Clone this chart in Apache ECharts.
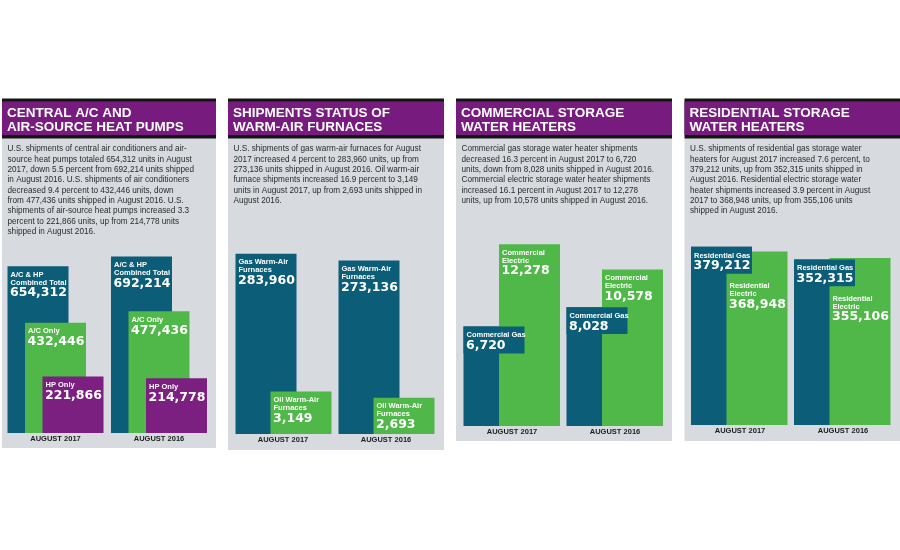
<!DOCTYPE html>
<html><head><meta charset="utf-8">
<script src="https://cdn.jsdelivr.net/npm/echarts@6/dist/echarts.min.js"></script>
<style>html,body{margin:0;padding:0;background:#fff}#c{width:900px;height:550px}</style>
</head><body><div id="c"></div>
<script>
// ---------- data ----------
const categories = ['AUGUST 2017', 'AUGUST 2016'];
const acHpTotal = [654312, 692214];
const acOnly = [432446, 477436];
const hpOnly = [221866, 214778];
const gasFurnaces = [283960, 273136];
const oilFurnaces = [3149, 2693];
const commercialGas = [6720, 8028];
const commercialElectric = [12278, 10578];
const residentialGas = [379212, 352315];
const residentialElectric = [368948, 355106];

const titles = [
  ['CENTRAL A/C AND', 'AIR-SOURCE HEAT PUMPS'],
  ['SHIPMENTS STATUS OF', 'WARM-AIR FURNACES'],
  ['COMMERCIAL STORAGE', 'WATER HEATERS'],
  ['RESIDENTIAL STORAGE', 'WATER HEATERS']
];
const bodies = [
  ['U.S. shipments of central air conditioners and air-',
   'source heat pumps totaled 654,312 units in August',
   '2017, down 5.5 percent from 692,214 units shipped',
   'in August 2016. U.S. shipments of air conditioners',
   'decreased 9.4 percent to 432,446 units, down',
   'from 477,436 units shipped in August 2016. U.S.',
   'shipments of air-source heat pumps increased 3.3',
   'percent to 221,866 units, up from 214,778 units',
   'shipped in August 2016.'],
  ['U.S. shipments of gas warm-air furnaces for August',
   '2017 increased 4 percent to 283,960 units, up from',
   '273,136 units shipped in August 2016. Oil warm-air',
   'furnace shipments increased 16.9 percent to 3,149',
   'units in August 2017, up from 2,693 units shipped in',
   'August 2016.'],
  ['Commercial gas storage water heater shipments',
   'decreased 16.3 percent in August 2017 to 6,720',
   'units, down from 8,028 units shipped in August 2016.',
   'Commercial electric storage water heater shipments',
   'increased 16.1 percent in August 2017 to 12,278',
   'units, up from 10,578 units shipped in August 2016.'],
  ['U.S. shipments of residential gas storage water',
   'heaters for August 2017 increased 7.6 percent, to',
   '379,212 units, up from 352,315 units shipped in',
   'August 2016. Residential electric storage water',
   'heater shipments increased 3.9 percent in August',
   '2017 to 368,948 units, up from 355,106 units',
   'shipped in August 2016.']
];

// ---------- style ----------
const TEAL = '#0c5d78', GREEN = '#50b848', PURPLE = '#7b1f80';
const HEADER = '#781b7f', PANEL = '#d7dbe0', BLACK = '#141414';
const BW = 61;

const panels = [
  { x: 2, w: 214, bottom: 448 },
  { x: 228, w: 216, bottom: 450 },
  { x: 456, w: 216, bottom: 441 },
  { x: 684.5, w: 215.5, bottom: 441 }
];

const grids = [
  { left: 3.75, width: 207, top: 253, height: 180 },
  { left: 231.5, width: 206, top: 244, height: 190 },
  { left: 460.5, width: 206, top: 236, height: 190 },
  { left: 688.5, width: 206, top: 235, height: 190 }
];
const yAxes = [
  { grid: 0, max: 705882 },
  { grid: 1, max: 299213 },
  { grid: 1, max: 14074 },
  { grid: 2, max: 12838 },
  { grid: 3, max: 404255 }
];

const gasSpecP3 = { lines: ['Commercial Gas'], values: commercialGas, color: TEAL, off: -18, grid: 2, y: 3, cap: true };
const gasSpecP4 = { lines: ['Residential Gas'], values: residentialGas, color: TEAL, off: -18.5, grid: 3, y: 4, cap: true };
const barSpecs = [
  { lines: ['A/C & HP', 'Combined Total'], values: acHpTotal, color: TEAL, off: -17.5, grid: 0, y: 0 },
  { lines: ['A/C Only'], values: acOnly, color: GREEN, off: 0, grid: 0, y: 0 },
  { lines: ['HP Only'], values: hpOnly, color: PURPLE, off: 17.5, grid: 0, y: 0 },
  { lines: ['Gas Warm-Air', 'Furnaces'], values: gasFurnaces, color: TEAL, off: -17, grid: 1, y: 1 },
  { lines: ['Oil Warm-Air', 'Furnaces'], values: oilFurnaces, color: GREEN, off: 18, grid: 1, y: 2 },
  gasSpecP3,
  { lines: ['Commercial', 'Electric'], values: commercialElectric, color: GREEN, off: 17.5, grid: 2, y: 3, avoid: gasSpecP3 },
  gasSpecP4,
  { lines: ['Residential', 'Electric'], values: residentialElectric, color: GREEN, off: 17, grid: 3, y: 4, avoid: gasSpecP4 }
];

function capBottom(top, n) { return top + 19.1 + n * 7.8; }
function labelEls(x, top, lines, value) {
  const els = lines.map((t, i) => ({
    type: 'text',
    style: { text: t, x: x + 3, y: top + 8.7 + i * 7.8, fill: '#fff',
      font: 'bold 7.5px "Liberation Sans"', align: 'left', verticalAlign: 'middle' }
  }));
  els.push({
    type: 'text',
    style: { text: value.toLocaleString('en-US'), x: x + 2.5, y: top + 11.3 + lines.length * 7.8,
      fill: '#fff', font: 'bold 12.5px "DejaVu Sans"', align: 'left', verticalAlign: 'middle' }
  });
  return els;
}

const series = [];
barSpecs.forEach(spec => {
  series.push({
    type: 'custom', coordinateSystem: 'cartesian2d',
    xAxisIndex: spec.grid, yAxisIndex: spec.y,
    data: spec.values.map((v, i) => [i, v]),
    encode: { x: 0, y: 1 },
    renderItem(params, api) {
      const c = api.value(0), v = api.value(1);
      const p = api.coord([c, v]), b = api.coord([c, 0]);
      const x = p[0] + spec.off - BW / 2;
      const children = [{ type: 'rect', shape: { x, y: p[1], width: BW, height: b[1] - p[1] }, style: { fill: spec.color } }];
      if (!spec.cap) {
        let top = p[1];
        if (spec.avoid) {
          const q = api.coord([c, spec.avoid.values[c]]);
          const labelH = capBottom(top, spec.lines.length) - top;
          if (q[1] < top + labelH) {
            top = Math.max(top, capBottom(q[1], spec.avoid.lines.length) + 4);
          }
        }
        children.push(...labelEls(x, top, spec.lines, v));
      }
      return { type: 'group', children };
    }
  });
});
// label caps drawn on top of overlapping bars
barSpecs.filter(s => s.cap).forEach(spec => {
  series.push({
    type: 'custom', coordinateSystem: 'cartesian2d',
    xAxisIndex: spec.grid, yAxisIndex: spec.y,
    data: spec.values.map((v, i) => [i, v]),
    encode: { x: 0, y: 1 },
    renderItem(params, api) {
      const c = api.value(0), v = api.value(1);
      const p = api.coord([c, v]);
      const x = p[0] + spec.off - BW / 2;
      const h = capBottom(p[1], spec.lines.length) - p[1];
      return { type: 'group', children: [
        { type: 'rect', shape: { x, y: p[1], width: BW, height: h }, style: { fill: spec.color } },
        ...labelEls(x, p[1], spec.lines, v)
      ] };
    }
  });
});

const graphic = [];
panels.forEach((p, i) => {
  graphic.push({ type: 'rect', shape: { x: p.x, y: 138, width: p.w, height: p.bottom - 138 }, style: { fill: PANEL } });
  graphic.push({ type: 'rect', shape: { x: p.x, y: 98.5, width: p.w, height: 40 }, style: { fill: BLACK } });
  graphic.push({ type: 'rect', shape: { x: p.x, y: 101.5, width: p.w, height: 33.5 }, style: { fill: HEADER } });
  titles[i].forEach((t, j) => graphic.push({
    type: 'text', style: { text: t, x: p.x + 5, y: 113 + j * 14, fill: '#fff',
      font: 'bold 13.5px "Liberation Sans"', align: 'left', verticalAlign: 'middle' }
  }));
  graphic.push({
    type: 'text', style: { text: bodies[i].join('\n'), x: p.x + 5.5, y: 143.8, fill: '#2a2a2a',
      font: '8.2px "Liberation Sans"', lineHeight: 10.35, align: 'left', verticalAlign: 'top' }
  });
});

const option = {
  animation: false,
  backgroundColor: '#ffffff',
  graphic,
  grid: grids,
  xAxis: grids.map((g, i) => ({
    type: 'category', gridIndex: i, data: categories,
    axisLine: { show: false }, axisTick: { show: false }, splitLine: { show: false },
    axisLabel: { color: '#1a1a1a', fontSize: 7.5, fontWeight: 'bold', fontFamily: 'Liberation Sans', margin: 2 }
  })),
  yAxis: yAxes.map(a => ({ type: 'value', gridIndex: a.grid, min: 0, max: a.max, show: false, splitLine: { show: false } })),
  series
};
echarts.init(document.getElementById('c')).setOption(option);
</script></body></html>
